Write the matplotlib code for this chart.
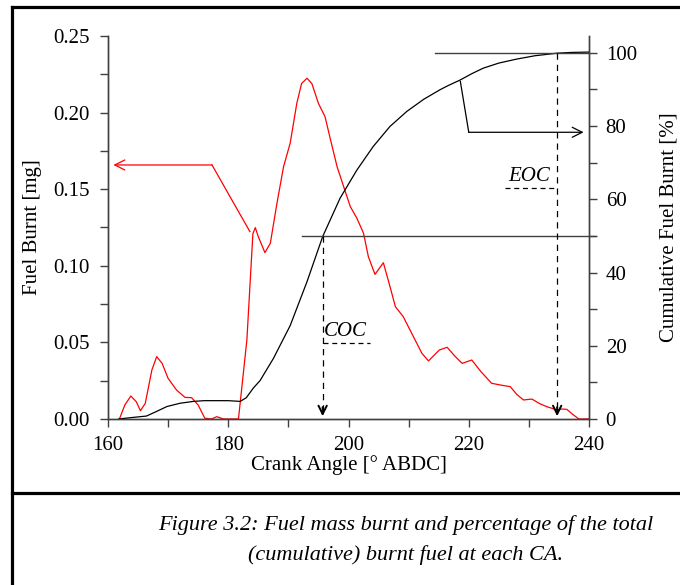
import matplotlib
matplotlib.use("Agg")
import matplotlib.pyplot as plt
from matplotlib.lines import Line2D
from matplotlib.ticker import MultipleLocator, FormatStrFormatter

plt.rcParams["font.family"] = ["Liberation Serif", "DejaVu Serif"]

# fuel burnt per CA step [mg]
burn_ca = [161.9, 162.8, 163.8, 164.7, 165.4, 166.2, 167.3, 168.1, 169.0, 170.0,
           171.4, 172.8, 173.9, 175.0, 176.1, 177.2, 178.1, 179.2, 181.7, 183.1,
           184.1, 184.5, 185.0, 186.1, 187.0, 188.1, 189.2, 190.3, 191.4, 192.2,
           193.1, 193.9, 195.0, 196.1, 196.9, 198.1, 199.2, 200.3, 201.4, 202.5,
           203.3, 204.4, 205.8, 206.9, 207.8, 209.1, 210.8, 212.2, 213.3, 215.1,
           216.4, 217.7, 218.9, 220.5, 222.0, 223.8, 225.5, 226.9, 228.0, 229.1,
           230.5, 231.8, 233.0, 234.7, 235.5, 236.3, 237.3, 238.3, 240.0]
burn_mg = [0.0, 0.0091, 0.015, 0.0113, 0.0054, 0.0102, 0.032, 0.0407, 0.0363, 0.0265,
           0.0189, 0.0141, 0.0139, 0.0091, 0.0005, 0.0, 0.0015, 0.0, 0.0, 0.0516,
           0.121, 0.1249, 0.119, 0.1086, 0.1147, 0.1408, 0.1647, 0.180, 0.206, 0.219,
           0.2224, 0.219, 0.206, 0.1973, 0.184, 0.1647, 0.1516, 0.1386, 0.131, 0.1212,
           0.106, 0.0944, 0.102, 0.0864, 0.0733, 0.0668, 0.0537, 0.0429, 0.0379, 0.045,
           0.0468, 0.041, 0.0363, 0.0385, 0.031, 0.0233, 0.022, 0.0211, 0.016, 0.0124,
           0.013, 0.010, 0.008, 0.0059, 0.0065, 0.0063, 0.003, 0.0, 0.0]

# cumulative burnt fuel [%]
cum_ca = [161.8, 164.0, 166.4, 168.0, 169.8, 172.0, 174.2, 176.0, 178.1, 180.0,
          182.0, 183.0, 184.2, 185.3, 187.5, 190.3, 193.1, 195.7, 198.6, 201.4,
          204.1, 206.9, 209.7, 212.5, 215.2, 216.5, 218.6, 220.5, 222.4, 225.0,
          228.0, 231.0, 234.7, 237.0, 239.9]
cum_pct = [0.0, 0.4, 0.8, 2.0, 3.4, 4.3, 4.8, 5.0, 5.0, 5.0,
           4.8, 5.8, 8.5, 10.5, 16.5, 25.5, 37.5, 49.8, 60.3, 68.0,
           74.4, 79.9, 84.0, 87.3, 89.9, 91.0, 92.6, 94.3, 95.8, 97.2,
           98.3, 99.2, 99.9, 100.1, 100.2]

coc_ca, eoc_ca = 195.7, 234.7
caption = ["Figure 3.2: Fuel mass burnt and percentage of the total",
           "(cumulative) burnt fuel at each CA."]

fig = plt.figure(figsize=(6.8, 5.85), dpi=100)
ax1 = fig.add_axes([0.1588, 0.2838, 0.7074, 0.6547])
ax2 = ax1.twinx()

ax1.plot(burn_ca, burn_mg, color="red", lw=0.9)
ax2.plot(cum_ca, cum_pct, color="black", lw=0.9)

ax1.set_xlim(160, 240)
ax1.set_ylim(0, 0.25)
ax2.set_ylim(0, 104.6)

ax1.xaxis.set_major_locator(MultipleLocator(20))
ax1.xaxis.set_minor_locator(MultipleLocator(10))
ax1.yaxis.set_major_locator(MultipleLocator(0.05))
ax1.yaxis.set_minor_locator(MultipleLocator(0.025))
ax1.yaxis.set_major_formatter(FormatStrFormatter("%.2f"))
ax2.yaxis.set_major_locator(MultipleLocator(20))
ax2.yaxis.set_minor_locator(MultipleLocator(10))

for ax in (ax1, ax2):
    ax.spines["top"].set_visible(False)
    for s in ax.spines.values():
        s.set_color("#404040")
        s.set_linewidth(1.0)
    ax.tick_params(which="both", direction="out", length=6, width=1.0,
                   color="#404040", labelsize=15)
ax1.tick_params(axis="x", pad=6)
ax1.tick_params(axis="y", pad=7)
ax2.tick_params(axis="y", pad=6)

ax1.set_xlabel("Crank Angle [° ABDC]", fontsize=15, labelpad=0)
ax1.set_ylabel("Fuel Burnt [mg]", fontsize=15, labelpad=8)
ax2.set_ylabel("Cumulative Fuel Burnt [%]", fontsize=15, labelpad=16)

# 50 % and 100 % reference lines
ax2.plot([192.2, 241.0], [50, 50], color="#404040", lw=1.0, clip_on=False)
ax2.plot([214.4, 240.0], [100, 100], color="#404040", lw=1.0, clip_on=False)

# COC / EOC dashed drop lines
for x0, y0 in [(coc_ca, 50), (eoc_ca, 100)]:
    ax2.plot([x0, x0], [y0, 1.5], color="black", lw=0.9, ls=(0, (5, 4)))
    ax2.annotate("", xy=(x0, 0), xytext=(x0, 4),
                 arrowprops=dict(arrowstyle="->", color="black", lw=1.4,
                                 mutation_scale=15))

ax2.text(195.9, 23.8, "COC", fontsize=15, style="italic", va="center", ha="left")
ax2.plot([195.7, 203.6], [20.8, 20.8], color="black", lw=0.9, ls=(0, (4, 3)))
ax2.text(226.6, 66.1, "EOC", fontsize=15, style="italic", va="center", ha="left")
ax2.plot([226.1, 234.7], [63.1, 63.1], color="black", lw=0.9, ls=(0, (4, 3)))

# pointer arrows to the axes
ax1.plot([183.6, 177.3], [0.1223, 0.1658], color="red", lw=0.9)
ax1.annotate("", xy=(160.9, 0.1658), xytext=(177.3, 0.1658),
             arrowprops=dict(arrowstyle="->", color="red", lw=0.9,
                             mutation_scale=18, shrinkA=0, shrinkB=0))
ax2.plot([218.6, 220.0], [92.2, 78.3], color="black", lw=0.9)
ax2.annotate("", xy=(239.1, 78.3), xytext=(220.0, 78.3),
             arrowprops=dict(arrowstyle="->", color="black", lw=0.9,
                             mutation_scale=18, shrinkA=0, shrinkB=0))

# figure frame and caption box
W, H = 680, 585
for xs, ys in [([12, 12], [7, 585]), ([12, 680], [7, 7]), ([12, 680], [493, 493])]:
    fig.add_artist(Line2D([x / W for x in xs], [1 - y / H for y in ys],
                          color="black", lw=2.3, transform=fig.transFigure,
                          solid_capstyle="projecting"))
fig.text(406 / W, 1 - 525 / H, caption[0], fontsize=16, style="italic",
         ha="center", va="center")
fig.text(406 / W, 1 - 555 / H, caption[1], fontsize=16, style="italic",
         ha="center", va="center")

fig.savefig("out.png", dpi=100)
